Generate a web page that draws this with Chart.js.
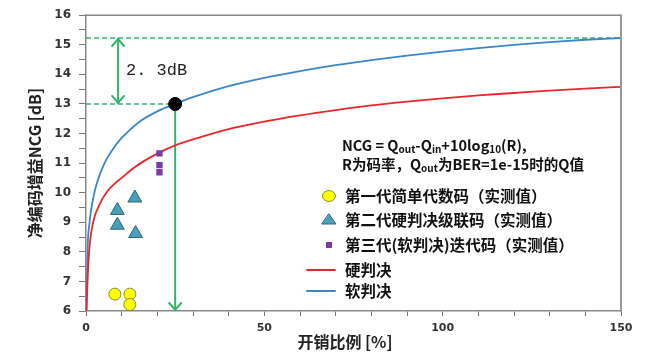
<!DOCTYPE html>
<html><head><meta charset="utf-8">
<script src="https://cdn.jsdelivr.net/npm/chart.js@4/dist/chart.umd.min.js"></script>
<style>html,body{margin:0;padding:0;background:#fff}#wrap{width:648px;height:360px}</style>
</head><body><div id="wrap"><canvas id="c" width="648" height="360"></canvas></div>
<script>
// ---- data ----
const hardX = [0.1,0.5,1,2,4,6,8,10,13,16,20,25,30,40,50,60,70,80,90,100,110,120,130,140,150];
const hardY = [6.0,7.2,8.2,9.0,9.65,10.05,10.3,10.5,10.8,11.05,11.32,11.6,11.8,12.15,12.4,12.61,12.79,12.95,13.08,13.19,13.29,13.37,13.45,13.52,13.58];
const softX = [0.15,0.4,1,2,3,5,8,10,15,20,25,30,40,50,60,70,80,90,100,110,120,130,140,150];
const softY = [6.0,7.9,9.0,9.8,10.3,10.95,11.55,11.85,12.4,12.75,13.0,13.23,13.6,13.88,14.11,14.31,14.48,14.63,14.77,14.89,15.0,15.09,15.17,15.23];
const gen1X = [8.1,12.3,12.3];
const gen1Y = [6.57,6.57,6.22];
const gen2X = [8.8,8.8,13.7,13.9];
const gen2Y = [9.4,8.9,9.82,8.62];
const gen3X = [20.6,20.6,20.6];
const gen3Y = [11.33,10.93,10.69];
const refX = 25, refSoft = 13.0, maxSoft = 15.23, gainArrowX = 9;
const xTicksLabeled = [0,50,100,150];
const seriesNames = ['第一代简单代数码（实测值）','第二代硬判决级联码（实测值）','第三代(软判决)迭代码（实测值）','硬判决','软判决'];

const GREEN = '#33b36a', RED = '#e8262b', BLUE = '#3a86c8';
const pts = (xs, ys) => xs.map((x, i) => ({x, y: ys[i]}));

const annot = {
  id: 'annot',
  afterDatasetsDraw(chart) {
    const {ctx, scales: {x, y}} = chart;
    ctx.save();
    ctx.strokeStyle = GREEN; ctx.lineWidth = 2; ctx.lineCap = 'round';
    const head = (px, py, dir) => {
      ctx.beginPath();
      ctx.moveTo(px - 6, py - dir * 7); ctx.lineTo(px, py); ctx.lineTo(px + 6, py - dir * 7);
      ctx.stroke();
    };
    head(x.getPixelForValue(gainArrowX), y.getPixelForValue(maxSoft) + 1, -1);
    head(x.getPixelForValue(gainArrowX), y.getPixelForValue(refSoft) - 1, 1);
    head(x.getPixelForValue(refX), y.getPixelForValue(6) - 1, 1);
    // 2.3dB label
    ctx.fillStyle = '#222';
    ctx.font = '17px "Liberation Mono"';
    ctx.textBaseline = 'middle'; ctx.textAlign = 'left';
    ctx.fillText('2. 3dB', 126, 70);
    // formula
    const cjk = '"Noto Sans CJK SC"';
    const seq = (parts, x0, y0) => {
      let cx = x0;
      for (const [t, sub] of parts) {
        ctx.font = (sub ? 'bold 10px ' : 'bold 14.5px ') + cjk;
        ctx.fillText(t, cx, y0 + (sub ? 4 : 0));
        cx += ctx.measureText(t).width;
      }
    };
    ctx.fillStyle = '#111';
    seq([['NCG = Q'],['out',1],['-Q'],['in',1],['+10log'],['10',1],['(R),']], 342, 145);
    seq([['R为码率，Q'],['out',1],['为BER=1e-15时的Q值']], 342, 164);
    // legend
    ctx.font = 'bold 15.5px ' + cjk;
    const ly = [196, 220, 245, 270, 291];
    ly.forEach((yy, i) => ctx.fillText(seriesNames[i], 345, yy));
    // markers
    ctx.lineWidth = 1;
    ctx.fillStyle = '#ffff00'; ctx.strokeStyle = '#8a8a3a';
    ctx.beginPath(); ctx.ellipse(329, 196, 6.5, 5.5, 0, 0, Math.PI * 2); ctx.fill(); ctx.stroke();
    ctx.fillStyle = '#4aa0b8'; ctx.strokeStyle = '#2c6678';
    ctx.beginPath(); ctx.moveTo(322, 224); ctx.lineTo(336, 224); ctx.lineTo(329, 214); ctx.closePath(); ctx.fill(); ctx.stroke();
    ctx.fillStyle = '#7a3aa6';
    ctx.fillRect(326, 242, 6, 6);
    ctx.lineWidth = 1.8;
    ctx.strokeStyle = RED; ctx.beginPath(); ctx.moveTo(307, 270); ctx.lineTo(335, 270); ctx.stroke();
    ctx.strokeStyle = BLUE; ctx.beginPath(); ctx.moveTo(307, 291); ctx.lineTo(335, 291); ctx.stroke();
    // x title
    ctx.fillStyle = '#222';
    ctx.font = 'bold 16px ' + cjk; ctx.textAlign = 'center';
    ctx.fillText('开销比例 [%]', 345, 342);
    // frame top & right
    const a = chart.chartArea;
    ctx.strokeStyle = '#888'; ctx.lineWidth = 1.5;
    ctx.beginPath(); ctx.moveTo(a.left, a.top); ctx.lineTo(a.right, a.top); ctx.stroke();
    ctx.strokeStyle = '#999'; ctx.lineWidth = 2;
    ctx.beginPath(); ctx.moveTo(a.right, a.top); ctx.lineTo(a.right, a.bottom); ctx.stroke();
    ctx.restore();
  }
};

new Chart(document.getElementById('c'), {
  type: 'scatter',
  data: {
    datasets: [
      {label: 'ref', data: [{x: refX, y: refSoft}], pointRadius: 6.5, backgroundColor: '#000', borderColor: '#000', order: 0},
      {label: seriesNames[0], data: pts(gen1X, gen1Y), pointStyle: 'circle', pointRadius: 6, backgroundColor: '#ffff00', borderColor: '#8a8a3a', borderWidth: 1, order: 1},
      {label: seriesNames[1], data: pts(gen2X, gen2Y), pointStyle: 'triangle', pointRadius: 8, backgroundColor: '#4aa0b8', borderColor: '#2c6678', borderWidth: 1, order: 1},
      {label: seriesNames[2], data: pts(gen3X, gen3Y), pointStyle: 'rect', pointRadius: 4.5, backgroundColor: '#7a3aa6', borderColor: '#7a3aa6', borderWidth: 0, order: 1},
      {label: seriesNames[3], data: pts(hardX, hardY), showLine: true, pointRadius: 0, borderColor: RED, borderWidth: 1.8, cubicInterpolationMode: 'monotone', order: 2},
      {label: seriesNames[4], data: pts(softX, softY), showLine: true, pointRadius: 0, borderColor: BLUE, borderWidth: 1.8, cubicInterpolationMode: 'monotone', order: 2},
      {label: 'max', data: [{x: 0, y: maxSoft}, {x: 150, y: maxSoft}], showLine: true, pointRadius: 0, borderColor: GREEN, borderWidth: 1.6, borderDash: [5, 3], order: 3},
      {label: 'lvl', data: [{x: 0, y: refSoft}, {x: refX, y: refSoft}], showLine: true, pointRadius: 0, borderColor: GREEN, borderWidth: 1.6, borderDash: [5, 3], order: 3},
      {label: 'vert', data: [{x: refX, y: refSoft}, {x: refX, y: 6}], showLine: true, pointRadius: 0, borderColor: GREEN, borderWidth: 2, order: 3},
      {label: 'gain', data: [{x: gainArrowX, y: refSoft}, {x: gainArrowX, y: maxSoft}], showLine: true, pointRadius: 0, borderColor: GREEN, borderWidth: 2, order: 3}
    ]
  },
  options: {
    responsive: false, animation: false,
    layout: {padding: {top: 14, right: 27, left: 0, bottom: 0}},
    plugins: {legend: {display: false}, tooltip: {enabled: false}},
    scales: {
      x: {
        type: 'linear', min: 0, max: 150,
        afterFit: s => { s.height = 49; },
        border: {color: '#888', width: 1.5},
        grid: {drawOnChartArea: false, drawTicks: true, tickLength: 5, color: '#777'},
        ticks: {stepSize: 10, autoSkip: false, maxRotation: 0, padding: 6, color: '#333',
          font: {family: '"DejaVu Sans"', weight: 'bold', size: 11},
          callback: v => xTicksLabeled.includes(v) ? String(v) : ''}
      },
      y: {
        min: 6, max: 16,
        afterFit: s => { s.width = 86; },
        border: {color: '#888', width: 1.5},
        grid: {drawOnChartArea: false, drawTicks: true, tickLength: 7, color: '#777'},
        ticks: {stepSize: 0.5, autoSkip: false, padding: 8, color: '#333',
          font: {family: '"DejaVu Sans"', weight: 'bold', size: 12},
          callback: v => Number.isInteger(v) ? String(v) : ''},
        title: {display: true, text: '净编码增益NCG [dB]', color: '#222', padding: {top: 25, bottom: 0},
          font: {family: '"Noto Sans CJK SC"', weight: 'bold', size: 16}}
      }
    }
  },
  plugins: [annot]
});
</script></body></html>
